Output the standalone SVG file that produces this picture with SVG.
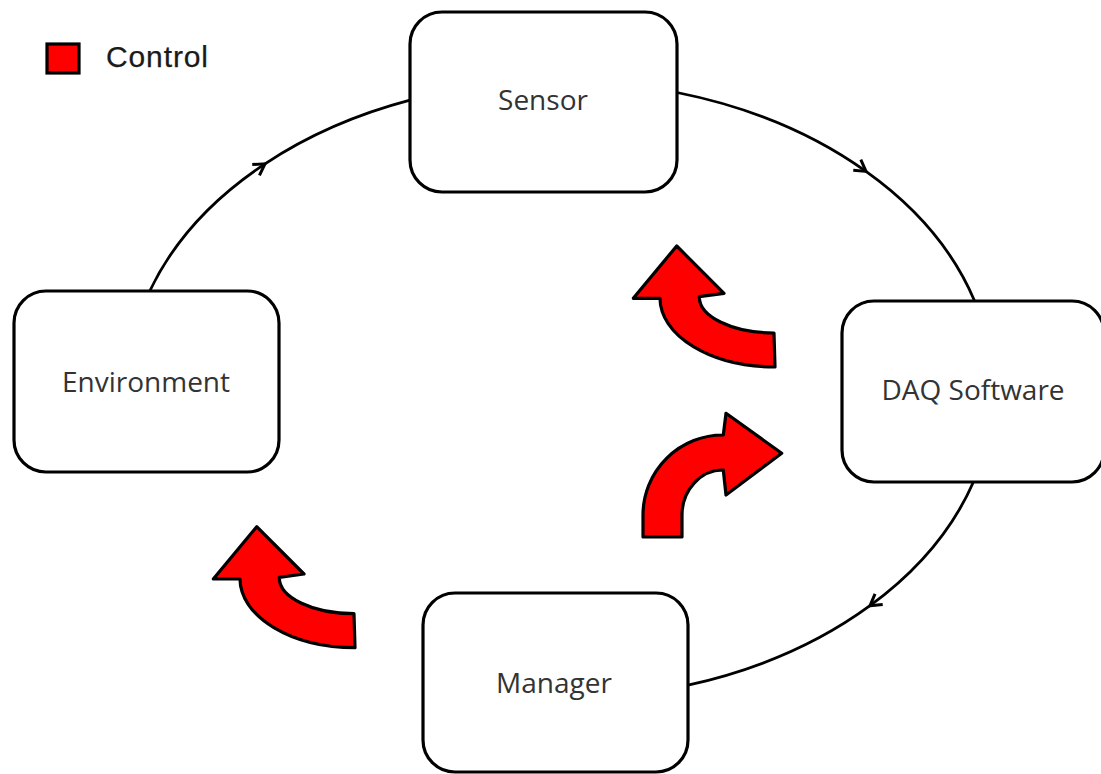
<svg xmlns="http://www.w3.org/2000/svg" xmlns:xlink="http://www.w3.org/1999/xlink" width="1101" height="774" viewBox="0 0 1101 774">
  <style>
    .box { fill: #ffffff; stroke: #000000; stroke-width: 3.2; }
    .label { font-family: "Open Sans", "Noto Sans", sans-serif; font-size: 28px; fill: #333333; text-anchor: middle; }
    .conn { fill: none; stroke: #000000; stroke-width: 2.8; marker-mid: url(#arr); }
    .red { fill: #ff0000; stroke: #000000; stroke-width: 3.2; stroke-linejoin: round; }
    .legend { font-family: "Liberation Sans", Arial, sans-serif; font-size: 30px; fill: #1a1a1a; stroke: #1a1a1a; stroke-width: 0.25; }
  </style>
  <defs>
    <marker id="arr" markerUnits="userSpaceOnUse" viewBox="-15 -15 30 30" markerWidth="30" markerHeight="30" refX="0" refY="0" orient="auto">
      <path d="M-11,-6.5 L0,0 L-11,6.5" fill="none" stroke="#000000" stroke-width="3"/>
    </marker>
    <path id="curlUp" d="M676.7,246 L724,293.3 L699.3,296.7 A75,36 0 0 0 774,333 L775,367 A115,69 0 0 1 660,298.3 L633.3,298.3 Z"/>
  </defs>

  <rect width="1101" height="774" fill="#ffffff"/>

  <g id="legend">
    <rect x="47" y="44" width="32" height="29" fill="#ff0000" stroke="#000000" stroke-width="3.2"/>
    <text class="legend" x="106" y="67" textLength="102">Control</text>
  </g>

  <g id="connectors">
    <path class="conn" d="M149.8,291 A433,309 0 0 1 265,163.8 A433,309 0 0 1 410,100.1"/>
    <path class="conn" d="M677,92.5 A433,309 0 0 1 866,171.4 A433,309 0 0 1 974.6,301"/>
    <path class="conn" d="M973.4,482 A433,309 0 0 1 870,605.7 A433,309 0 0 1 688,685.2"/>
  </g>

  <g id="sensor">
    <rect class="box" x="410" y="12" width="267" height="180" rx="32" ry="32"/>
    <text class="label" x="543" y="110">Sensor</text>
  </g>

  <g id="environment">
    <rect class="box" x="14" y="291" width="265" height="181" rx="32" ry="32"/>
    <text class="label" x="146" y="392">Environment</text>
  </g>

  <g id="daq-software">
    <rect class="box" x="842" y="301" width="262" height="181" rx="32" ry="32"/>
    <text class="label" x="973" y="400">DAQ Software</text>
  </g>

  <g id="manager">
    <rect class="box" x="423" y="593" width="265" height="179" rx="32" ry="32"/>
    <text class="label" x="554" y="693">Manager</text>
  </g>

  <g id="control-arrows">
    <use xlink:href="#curlUp" href="#curlUp" class="red"/>
    <path class="red" d="M781.7,453.3 L726,495 L723.3,470 A41,45 0 0 0 682,515 L682,537 L643,537 L643,515 A80,80 0 0 1 723.3,435 L726,413.3 Z"/>
    <use xlink:href="#curlUp" href="#curlUp" class="red" transform="translate(-420,280.7)"/>
  </g>
</svg>
